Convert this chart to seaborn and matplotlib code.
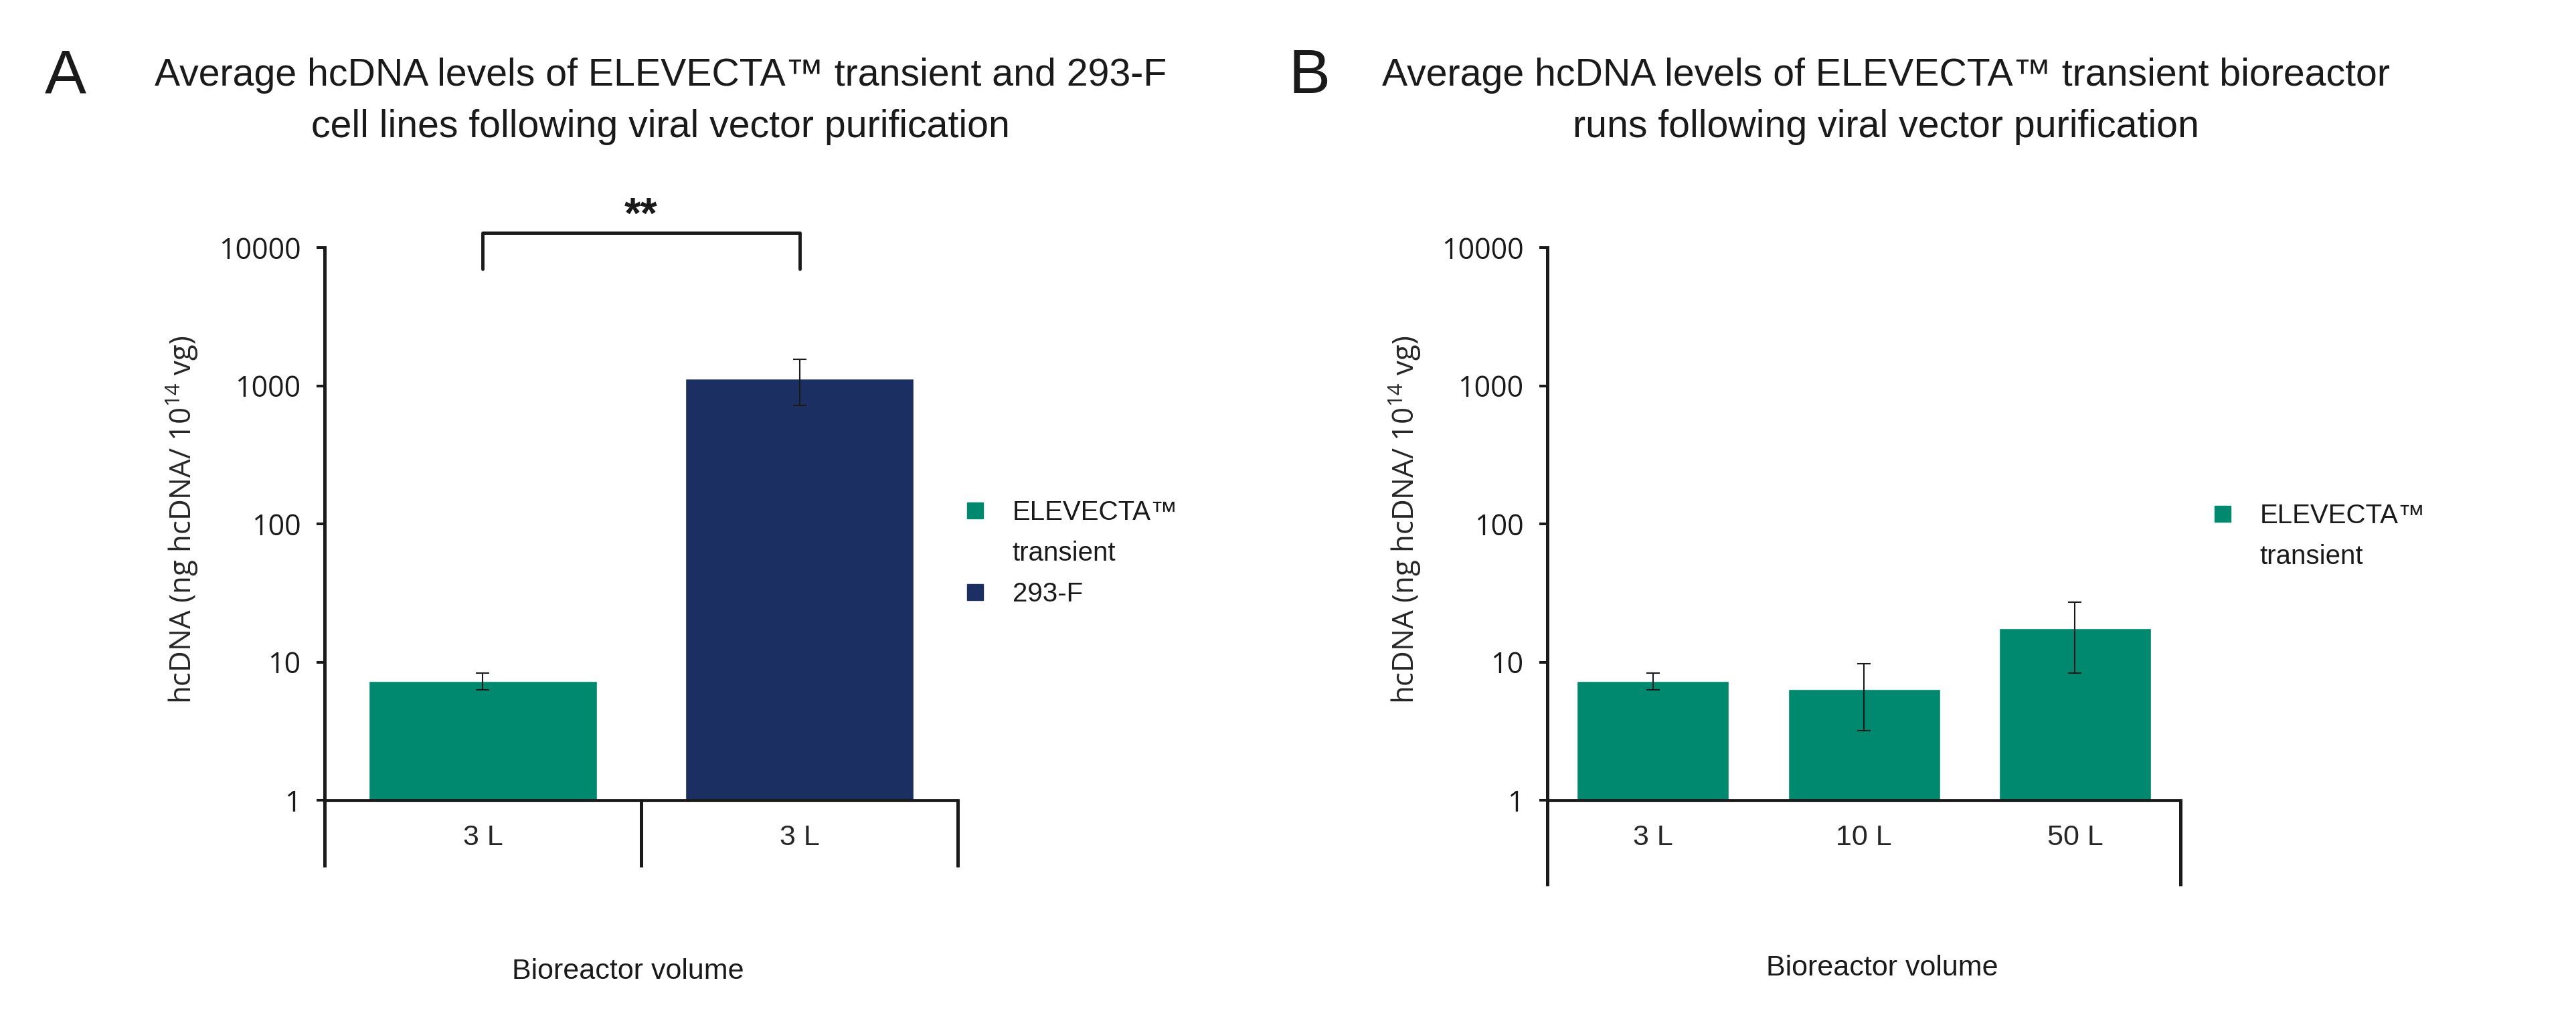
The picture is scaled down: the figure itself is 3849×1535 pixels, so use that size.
import matplotlib
matplotlib.use("Agg")
import matplotlib.pyplot as plt
from matplotlib.lines import Line2D
from matplotlib.ticker import NullLocator
import pandas as pd
import seaborn as sns

# panel A: ELEVECTA transient vs 293-F, 3 L runs
cell_lines = ["ELEVECTA™ transient", "293-F"]
volumes_a = ["3 L", "3 L"]
hcdna_a = [7.3, 1130]
low_a = [6.3, 720]
high_a = [8.3, 1550]

# panel B: ELEVECTA transient at three bioreactor volumes
volumes_b = ["3 L", "10 L", "50 L"]
hcdna_b = [7.3, 6.4, 17.6]
low_b = [6.3, 3.2, 8.3]
high_b = [8.3, 9.7, 27.2]

y_ticks = [1, 10, 100, 1000, 10000]
y_tick_labels = ["1", "10", "100", "1000", "10000"]

green = "#00896E"
navy = "#1B2F63"
ink = "#1a1a1a"

sns.set_style("ticks")
plt.rcParams["font.family"] = ["Liberation Sans", "DejaVu Sans"]
plt.rcParams["mathtext.fontset"] = "custom"
plt.rcParams["mathtext.rm"] = "Open Sans"
plt.rcParams["text.color"] = ink

fig = plt.figure(figsize=(38.49, 15.35), dpi=100)
ax_a = fig.add_axes([0.1260, 0.2208, 0.2458, 0.5381])
ax_b = fig.add_axes([0.6007, 0.2208, 0.2458, 0.5381])

df_a = pd.DataFrame({"line": cell_lines, "volume": volumes_a, "hcdna": hcdna_a})
df_b = pd.DataFrame({"volume": volumes_b, "hcdna": hcdna_b})

sns.barplot(data=df_a, x="line", y="hcdna", hue="line", palette=[green, navy],
            width=0.72, errorbar=None, legend=False, saturation=1, ax=ax_a)
sns.barplot(data=df_b, x="volume", y="hcdna", color=green,
            width=0.72, errorbar=None, saturation=1, ax=ax_b)

for ax, vals, lo, hi in [(ax_a, hcdna_a, low_a, high_a), (ax_b, hcdna_b, low_b, high_b)]:
    yerr = [[v - l for v, l in zip(vals, lo)], [h - v for v, h in zip(vals, hi)]]
    ax.errorbar(range(len(vals)), vals, yerr=yerr, fmt="none", ecolor=ink,
                elinewidth=1.5, capsize=7.5, capthick=1.5, zorder=5)


def style_axis(ax, labels, seps, sep_len):
    ax.set_yscale("log")
    ax.set_ylim(1, 10000)
    ax.set_xlim(-0.5, len(labels) - 0.5)
    ax.set_yticks(y_ticks)
    ax.set_yticklabels(y_tick_labels, fontfamily="Open Sans", fontsize=31)
    ax.yaxis.set_minor_locator(NullLocator())
    ax.set_xticks(range(len(labels)))
    ax.set_xticklabels(labels, fontsize=31)
    ax.set_xticks(seps, minor=True)
    ax.tick_params(axis="x", which="major", length=0, pad=26)
    ax.tick_params(axis="x", which="minor", length=sep_len, width=3.6,
                   direction="out", color=ink)
    ax.tick_params(axis="y", which="major", length=8.6, width=2.9, pad=17,
                   direction="out", color=ink, labelcolor=ink)
    for side in ["top", "right"]:
        ax.spines[side].set_visible(False)
    ax.spines["left"].set_linewidth(3.6)
    ax.spines["bottom"].set_linewidth(3.4)
    ax.spines["left"].set_color(ink)
    ax.spines["bottom"].set_color(ink)
    ax.set_xlabel("")
    ax.set_ylabel(r"hcDNA (ng hcDNA/ $\mathregular{10^{14}}$ vg)",
                  fontfamily="Open Sans", fontsize=31.5)
    ax.yaxis.set_label_coords(-0.196, 0.508)


style_axis(ax_a, volumes_a, [-0.5, 0.5, 1.5], 72)
style_axis(ax_b, volumes_b, [-0.5, 2.5], 92)

ax_a.text(0.479, -0.31, "Bioreactor volume", transform=ax_a.transAxes,
          ha="center", va="center", fontsize=31)
ax_b.text(0.5285, -0.304, "Bioreactor volume", transform=ax_b.transAxes,
          ha="center", va="center", fontsize=31)

# significance bracket between the two cell lines
tr = ax_a.get_xaxis_transform()
ax_a.plot([0, 0, 1, 1], [0.961, 1.027, 1.027, 0.961], transform=tr,
          clip_on=False, color=ink, lw=3.5, solid_joinstyle="round")
ax_a.text(0.5, 1.036, "**", transform=tr, ha="center", va="baseline",
          fontsize=46, fontweight="bold")

# titles and panel letters
fig.text(0.0174, 0.9094, "A", fontsize=67, ha="left", va="baseline")
fig.text(0.5001, 0.9094, "B", fontsize=67, ha="left", va="baseline")
fig.text(0.2564, 0.9166, "Average hcDNA levels of ELEVECTA™ transient and 293-F",
         fontsize=41.2, ha="center", va="baseline")
fig.text(0.2564, 0.8664, "cell lines following viral vector purification",
         fontsize=41.2, ha="center", va="baseline")
fig.text(0.7321, 0.9166, "Average hcDNA levels of ELEVECTA™ transient bioreactor",
         fontsize=41.2, ha="center", va="baseline")
fig.text(0.7321, 0.8664, "runs following viral vector purification",
         fontsize=41.2, ha="center", va="baseline")

# legends: the second text line of ELEVECTA gets an empty handle
blank = Line2D([], [], ls="none")
sq_green = Line2D([0], [0], marker="s", ls="none", markersize=17,
                  markerfacecolor=green, markeredgecolor=green)
sq_navy = Line2D([0], [0], marker="s", ls="none", markersize=17,
                 markerfacecolor=navy, markeredgecolor=navy)
leg_kw = dict(loc="upper left", frameon=False, fontsize=29, handlelength=0.65,
              handletextpad=1.05, labelspacing=0.57, borderpad=0, borderaxespad=0,
              labelcolor=ink)
fig.legend([sq_green, blank, sq_navy], ["ELEVECTA™", "transient", "293-F"],
           bbox_to_anchor=(0.3752, 0.5135), **leg_kw)
fig.legend([sq_green, blank], ["ELEVECTA™", "transient"],
           bbox_to_anchor=(0.8594, 0.510), **leg_kw)

fig.savefig("out.png", dpi=100, facecolor="white")
